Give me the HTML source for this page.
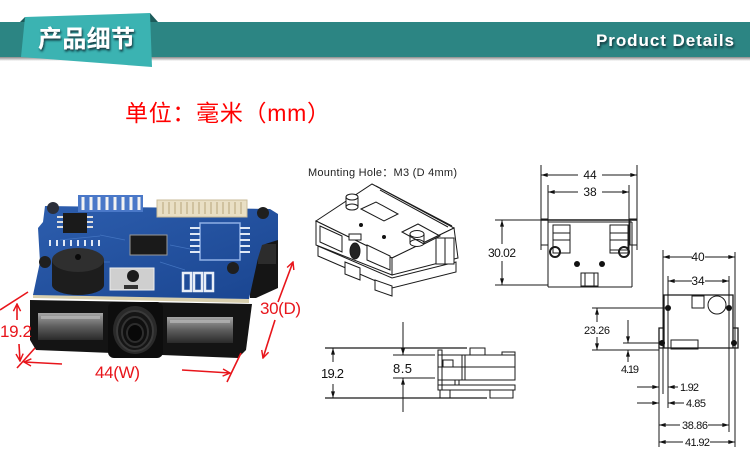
<!DOCTYPE html>
<html><head><meta charset="utf-8"><style>
html,body{margin:0;padding:0;background:#fff;}
svg{display:block;}
</style></head><body>
<svg width="750" height="470" viewBox="0 0 750 470" xmlns="http://www.w3.org/2000/svg">
<defs>
<linearGradient id="sh" x1="0" y1="0" x2="0" y2="1"><stop offset="0" stop-color="#8a8a8a"/><stop offset="1" stop-color="#fff"/></linearGradient>
<linearGradient id="win" x1="0" y1="0" x2="0" y2="1"><stop offset="0" stop-color="#a5a5a5"/><stop offset="0.5" stop-color="#5e5e5e"/><stop offset="1" stop-color="#2a2a2a"/></linearGradient>
<linearGradient id="pcb" x1="0" y1="0" x2="1" y2="1"><stop offset="0" stop-color="#2d5eae"/><stop offset="1" stop-color="#1a4590"/></linearGradient>
<filter id="ts" x="-10%" y="-20%" width="130%" height="150%"><feDropShadow dx="1" dy="2" stdDeviation="1" flood-color="#0a2a33" flood-opacity="0.9"/></filter>
<marker id="a" viewBox="0 0 10 6" refX="10" refY="3" markerWidth="7" markerHeight="4" markerUnits="userSpaceOnUse" orient="auto-start-reverse"><path d="M0,0 L10,3 L0,6 z" fill="#111"/></marker>
<marker id="r" viewBox="0 0 10 10" refX="9" refY="5" markerWidth="9" markerHeight="9" markerUnits="userSpaceOnUse" orient="auto-start-reverse"><path d="M1,1 L9,5 L1,9" fill="none" stroke="#e8151b" stroke-width="1.6"/></marker>
</defs>

<!-- header -->
<rect x="0" y="22" width="750" height="36" fill="#2c8583"/>
<rect x="0" y="57" width="750" height="4" fill="url(#sh)"/>
<polygon points="20,22 25,17 25,22" fill="#1c5b5a"/>
<polygon points="150,13 158,22 150,22" fill="#1c5b5a"/>
<polygon points="25,17 150,13 152,67 21,57" fill="#3bb3b2"/>
<text x="38" y="47" font-family="'Liberation Sans','Noto Sans CJK SC',sans-serif" font-size="24" font-weight="bold" fill="#fff" filter="url(#ts)" textLength="97">产品细节</text>
<text x="596" y="46" font-family="'Liberation Sans',sans-serif" font-size="17" font-weight="bold" fill="#fff" filter="url(#ts)" textLength="139" letter-spacing="1">Product Details</text>

<!-- unit -->
<text x="125" y="121" font-family="'Liberation Sans','Noto Sans CJK SC',sans-serif" font-size="23" fill="#f00" textLength="205">单位：毫米（mm）</text>

<!-- photo -->
<g>
<polygon points="250,240 278,238 278,288 256,298 250,298" fill="#151515"/>
<rect x="258" y="244" width="18" height="20" fill="#2c2c2c"/>
<polygon points="30,300 252,304 246,350 238,358 36,350 30,340" fill="#141414"/>
<rect x="38" y="313" width="65" height="27" fill="url(#win)"/>
<rect x="167" y="317" width="66" height="26" fill="url(#win)"/>
<rect x="41" y="316" width="59" height="3" fill="#c0c0c0" opacity="0.6"/>
<rect x="170" y="320" width="60" height="3" fill="#c0c0c0" opacity="0.6"/>
<rect x="108" y="302" width="55" height="56" rx="6" fill="#0d0d0d"/>
<ellipse cx="135" cy="330" rx="22" ry="24" fill="#2a2a2a"/>
<ellipse cx="135" cy="331" rx="18" ry="20" fill="#151515" stroke="#3a3a3a" stroke-width="2"/>
<ellipse cx="135" cy="332" rx="13" ry="15" fill="#0f0f0f" stroke="#333" stroke-width="2"/>
<ellipse cx="135" cy="333" rx="8" ry="9" fill="#080808" stroke="#2d2d2d" stroke-width="2"/>
<polygon points="33,294 249,299 249,303 33,298" fill="#d8cfae"/>
<polygon points="45,206 270,209 278,214 278,240 262,245 258,258 249,299 33,295 40,262 38,228 43,222" fill="url(#pcb)"/>
<g stroke="#4a7cc8" stroke-width="0.8" fill="none" opacity="0.8">
<path d="M100,235 L125,240 M170,245 L195,250 M95,262 L110,262 M160,262 L185,270 M60,240 L100,236"/>
</g>
<rect x="78" y="195" width="65" height="17" fill="#4a78c8"/>
<g stroke="#f2f2f2" stroke-width="3">
<line x1="83" y1="197" x2="83" y2="210"/><line x1="91" y1="197" x2="91" y2="210"/><line x1="99" y1="197" x2="99" y2="210"/><line x1="107" y1="197" x2="107" y2="210"/><line x1="115" y1="197" x2="115" y2="210"/><line x1="123" y1="197" x2="123" y2="210"/><line x1="131" y1="197" x2="131" y2="210"/><line x1="139" y1="197" x2="139" y2="210"/>
</g>
<rect x="157" y="200" width="90" height="17" fill="#e9dfc4" stroke="#c9bb98"/>
<g stroke="#b8a57a" stroke-width="1">
<line x1="163" y1="202" x2="163" y2="214"/><line x1="169" y1="202" x2="169" y2="214"/><line x1="175" y1="202" x2="175" y2="214"/><line x1="181" y1="202" x2="181" y2="214"/><line x1="187" y1="202" x2="187" y2="214"/><line x1="193" y1="202" x2="193" y2="214"/><line x1="199" y1="202" x2="199" y2="214"/><line x1="205" y1="202" x2="205" y2="214"/><line x1="211" y1="202" x2="211" y2="214"/><line x1="217" y1="202" x2="217" y2="214"/><line x1="223" y1="202" x2="223" y2="214"/><line x1="229" y1="202" x2="229" y2="214"/><line x1="235" y1="202" x2="235" y2="214"/><line x1="241" y1="202" x2="241" y2="214"/>
</g>
<rect x="63" y="213" width="24" height="20" fill="#1a1a1a"/>
<g stroke="#ddd" stroke-width="2"><line x1="57" y1="217" x2="63" y2="217"/><line x1="57" y1="222" x2="63" y2="222"/><line x1="57" y1="227" x2="63" y2="227"/><line x1="87" y1="217" x2="93" y2="217"/><line x1="87" y1="222" x2="93" y2="222"/><line x1="87" y1="227" x2="93" y2="227"/></g>
<rect x="130" y="235" width="37" height="20" fill="#1a1a1a" stroke="#999" stroke-width="1"/>
<rect x="200" y="223" width="40" height="37" fill="none" stroke="#8fb0e6" stroke-width="1.5"/>
<g stroke="#dfe8f5" stroke-width="2"><line x1="190" y1="228" x2="200" y2="228"/><line x1="190" y1="234" x2="200" y2="234"/><line x1="190" y1="240" x2="200" y2="240"/><line x1="190" y1="246" x2="200" y2="246"/><line x1="190" y1="252" x2="200" y2="252"/><line x1="240" y1="228" x2="250" y2="228"/><line x1="240" y1="234" x2="250" y2="234"/><line x1="240" y1="240" x2="250" y2="240"/><line x1="240" y1="246" x2="250" y2="246"/><line x1="240" y1="252" x2="250" y2="252"/></g>
<g stroke="#dfe8f5" stroke-width="2"><line x1="50" y1="240" x2="50" y2="246"/><line x1="57" y1="240" x2="57" y2="246"/><line x1="64" y1="240" x2="64" y2="246"/><line x1="71" y1="240" x2="71" y2="246"/><line x1="78" y1="240" x2="78" y2="246"/><line x1="85" y1="240" x2="85" y2="246"/><line x1="92" y1="240" x2="92" y2="246"/><line x1="99" y1="240" x2="99" y2="246"/></g>
<g fill="none" stroke="#e8eef8" stroke-width="2.5"><rect x="183" y="273" width="8" height="18"/><rect x="194" y="273" width="8" height="18"/><rect x="205" y="273" width="8" height="18"/></g>
<ellipse cx="78" cy="285" rx="26" ry="10" fill="#1d1d1d"/>
<rect x="52" y="260" width="52" height="25" fill="#1d1d1d"/>
<ellipse cx="78" cy="260" rx="26" ry="12" fill="#2f2f2f"/>
<circle cx="78" cy="257" r="3" fill="#0a0a0a"/>
<rect x="110" y="268" width="44" height="22" fill="#cfcfcf" stroke="#eee"/>
<circle cx="133" cy="276" r="6" fill="#1a1a1a"/>
<rect x="124" y="285" width="14" height="4" fill="#333"/>
<circle cx="53" cy="208" r="6" fill="#2b2f3a"/><circle cx="263" cy="213" r="6" fill="#1f1f1f"/>
<circle cx="233" cy="268" r="6" fill="#1f1f1f"/><circle cx="45" cy="262" r="6" fill="#1f1f1f"/>
<g stroke="#e8151b" stroke-width="1.6" fill="none">
<line x1="17" y1="320" x2="17" y2="304" marker-end="url(#r)"/>
<line x1="0" y1="310" x2="28" y2="292"/>
<line x1="19" y1="344" x2="20" y2="361" marker-end="url(#r)"/>
<line x1="17" y1="368" x2="35" y2="348"/>
<line x1="62" y1="364" x2="24" y2="362" marker-end="url(#r)"/>
<line x1="182" y1="370" x2="230" y2="373" marker-end="url(#r)"/>
<line x1="241" y1="353" x2="227" y2="382"/>
<line x1="278" y1="302" x2="293" y2="262" marker-end="url(#r)"/>
<line x1="275" y1="320" x2="263" y2="358" marker-end="url(#r)"/>
</g>
<g font-family="'Liberation Sans',sans-serif" font-size="17" fill="#e8151b">
<text x="0" y="337" textLength="32">19.2</text>
<text x="260" y="314" textLength="41">30(D)</text>
<text x="95" y="378" textLength="45">44(W)</text>
</g>
</g>

<text x="308" y="176" font-family="'Liberation Sans','Noto Sans CJK SC',sans-serif" font-size="11" fill="#222" textLength="149">Mounting Hole：M3 (D 4mm)</text>

<!-- isometric drawing -->
<g fill="#fff" stroke="#1a1a1a" stroke-width="1">
<polygon points="318,246 392,278 456,262 456,272 392,288 318,256"/>
<polygon points="345,262 360,268 360,280 345,274"/>
<polygon points="375,280 392,286 392,296 375,290"/>
<polygon points="316,221 372,184 454,228 392,258"/>
<polygon points="316,221 392,258 392,275 316,245"/>
<polygon points="392,258 454,228 458,258 392,275"/>
<polyline points="376,186 452,226" fill="none"/>
<polyline points="380,190 448,227" fill="none"/>
<polygon points="320,226 342,236 342,252 320,242"/>
<polygon points="367,245 390,256 390,270 367,260"/>
<rect x="436" y="238" width="18" height="26" />
<line x1="445" y1="238" x2="445" y2="264"/>
<rect x="346" y="197" width="12" height="10" />
<ellipse cx="352" cy="197" rx="6" ry="3"/>
<ellipse cx="352" cy="207" rx="6" ry="3"/>
<rect x="410" y="234" width="14" height="9" />
<ellipse cx="417" cy="234" rx="7" ry="3.5"/>
<ellipse cx="417" cy="243" rx="7" ry="3.5"/>
<polygon points="361,209 376,202 398,214 384,221"/>
<polygon points="402,232 418,224 440,236 424,244" fill="none"/>
<ellipse cx="355" cy="251" rx="5" ry="8" fill="#222"/>
<rect x="349" y="234" width="12" height="6" fill="#fff"/>
</g>
<circle cx="361" cy="225" r="2" fill="#111"/>
<circle cx="384" cy="237" r="2" fill="#111"/>

<!-- front view -->
<g stroke="#1a1a1a" stroke-width="1" fill="none">
<line x1="541" y1="165" x2="541" y2="250"/>
<line x1="637" y1="165" x2="637" y2="250"/>
<line x1="548" y1="185" x2="548" y2="287"/>
<line x1="629" y1="185" x2="629" y2="253"/>
<line x1="541" y1="175" x2="578" y2="175" marker-start="url(#a)"/>
<line x1="602" y1="175" x2="637" y2="175" marker-end="url(#a)"/>
<line x1="548" y1="192" x2="578" y2="192" marker-start="url(#a)"/>
<line x1="602" y1="192" x2="629" y2="192" marker-end="url(#a)"/>
<line x1="541" y1="220" x2="637" y2="220" stroke-width="1.5"/>
<line x1="548" y1="222" x2="632" y2="222"/>
<rect x="541" y="219" width="7" height="26"/>
<rect x="630" y="219" width="7" height="26"/>
<line x1="632" y1="222" x2="632" y2="287"/>
<line x1="548" y1="287" x2="632" y2="287"/>
<rect x="553" y="225" width="17" height="28"/>
<line x1="553" y1="233" x2="570" y2="233"/><line x1="553" y1="240" x2="570" y2="240"/>
<rect x="610" y="225" width="18" height="28"/>
<line x1="610" y1="233" x2="628" y2="233"/><line x1="610" y1="240" x2="628" y2="240"/>
<circle cx="555" cy="252" r="5" stroke-width="2"/>
<circle cx="624" cy="252" r="5" stroke-width="2"/>
<rect x="581" y="273" width="17" height="13"/>
<line x1="585" y1="273" x2="585" y2="286"/><line x1="594" y1="273" x2="594" y2="286"/>
<line x1="495" y1="220" x2="541" y2="220"/>
<line x1="495" y1="285" x2="548" y2="285"/>
<line x1="502" y1="220" x2="502" y2="244" marker-start="url(#a)"/>
<line x1="502" y1="261" x2="502" y2="285" marker-end="url(#a)"/>
</g>
<circle cx="577" cy="264" r="3" fill="#111"/>
<circle cx="602" cy="264" r="3" fill="#111"/>
<g font-family="'Liberation Sans',sans-serif" font-size="12" fill="#111" text-anchor="middle">
<text x="590" y="179">44</text>
<text x="590" y="196">38</text>
<text x="502" y="257" textLength="28">30.02</text>
</g>

<!-- side view -->
<g stroke="#1a1a1a" stroke-width="1" fill="none">
<line x1="325" y1="348" x2="467" y2="348" stroke-width="1.3"/>
<line x1="325" y1="398" x2="487" y2="398" stroke-width="1.3"/>
<line x1="393" y1="355" x2="435" y2="355"/>
<line x1="393" y1="378" x2="435" y2="378"/>
<line x1="333" y1="362" x2="333" y2="348" marker-end="url(#a)"/>
<line x1="333" y1="384" x2="333" y2="398" marker-end="url(#a)"/>
<line x1="403" y1="322" x2="403" y2="355" marker-end="url(#a)"/>
<line x1="403" y1="412" x2="403" y2="378" marker-end="url(#a)"/>
<rect x="438" y="355" width="77" height="25"/>
<line x1="438" y1="367" x2="515" y2="367"/>
<line x1="462" y1="355" x2="462" y2="380"/><line x1="465" y1="355" x2="465" y2="380"/>
<rect x="443" y="360" width="10" height="7"/>
<rect x="470" y="348" width="15" height="7"/>
<rect x="502" y="352" width="13" height="3"/>
<rect x="438" y="350" width="4" height="40"/>
<rect x="438" y="385" width="77" height="5"/>
<rect x="440" y="390" width="10" height="8"/>
<rect x="490" y="390" width="23" height="8"/>
<rect x="455" y="380" width="4" height="5"/>
</g>
<g font-family="'Liberation Sans',sans-serif" font-size="13" fill="#111">
<text x="321" y="378" textLength="23">19.2</text>
<text x="393" y="373" textLength="19">8.5</text>
</g>

<!-- right view -->
<g stroke="#1a1a1a" stroke-width="1" fill="none">
<line x1="663" y1="250" x2="663" y2="394"/>
<line x1="735" y1="252" x2="735" y2="447"/>
<line x1="668" y1="276" x2="668" y2="408"/>
<line x1="729" y1="276" x2="729" y2="432"/>
<line x1="659" y1="330" x2="659" y2="447"/>
<line x1="663" y1="257" x2="692" y2="257" marker-start="url(#a)"/>
<line x1="705" y1="257" x2="735" y2="257" marker-end="url(#a)"/>
<line x1="668" y1="281" x2="692" y2="281" marker-start="url(#a)"/>
<line x1="705" y1="281" x2="729" y2="281" marker-end="url(#a)"/>
<polyline points="664,348 664,295 733,295 733,348" stroke-width="1.3"/>
<polyline points="664,328 659,328 659,348 738,348 738,328 733,328" stroke-width="1.3"/>
<rect x="671" y="340" width="27" height="9"/>
<rect x="692" y="296" width="12" height="12"/>
<circle cx="717" cy="305" r="9"/>
<line x1="592" y1="308" x2="668" y2="308"/>
<line x1="592" y1="350" x2="659" y2="350"/>
<line x1="597" y1="322" x2="597" y2="308" marker-end="url(#a)"/>
<line x1="597" y1="337" x2="597" y2="350" marker-end="url(#a)"/>
<line x1="623" y1="343" x2="660" y2="343"/>
<line x1="628" y1="320" x2="628" y2="343" marker-end="url(#a)"/>
<line x1="628" y1="362" x2="628" y2="350" marker-end="url(#a)"/>
<line x1="637" y1="387" x2="659" y2="387" marker-end="url(#a)"/>
<line x1="678" y1="387" x2="668" y2="387" marker-end="url(#a)"/>
<line x1="637" y1="403" x2="659" y2="403" marker-end="url(#a)"/>
<line x1="684" y1="403" x2="668" y2="403" marker-end="url(#a)"/>
<line x1="659" y1="425" x2="680" y2="425" marker-start="url(#a)"/>
<line x1="708" y1="425" x2="729" y2="425" marker-end="url(#a)"/>
<line x1="659" y1="442" x2="683" y2="442" marker-start="url(#a)"/>
<line x1="710" y1="442" x2="735" y2="442" marker-end="url(#a)"/>
<rect x="610" y="240" width="18" height="10"/>
<line x1="632" y1="250" x2="632" y2="284"/>
</g>
<g fill="#111"><circle cx="668" cy="308" r="3"/><circle cx="729" cy="308" r="3"/><circle cx="662" cy="343" r="3"/><circle cx="734" cy="343" r="3"/></g>
<g font-family="'Liberation Sans',sans-serif" font-size="11" fill="#111">
<text x="698" y="261" text-anchor="middle" font-size="12">40</text>
<text x="698" y="285" text-anchor="middle" font-size="12">34</text>
<text x="584" y="334" textLength="26">23.26</text>
<text x="621" y="373" textLength="18">4.19</text>
<text x="680" y="391" textLength="19">1.92</text>
<text x="686" y="407" textLength="20">4.85</text>
<text x="682" y="429" textLength="26">38.86</text>
<text x="685" y="446" textLength="25">41.92</text>
</g>
</svg>
</body></html>
